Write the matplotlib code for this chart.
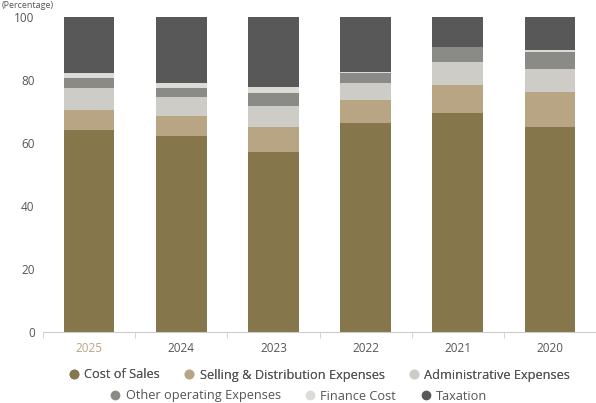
import matplotlib.pyplot as plt
import numpy as np
from matplotlib.lines import Line2D

years = ['2025', '2024', '2023', '2022', '2021', '2020']
series_names = ['Cost of Sales', 'Selling & Distribution Expenses', 'Administrative Expenses',
                'Other operating Expenses', 'Finance Cost', 'Taxation']
cost_of_sales = [64.2, 62.2, 57.1, 66.3, 69.5, 65.1]
selling_dist = [6.3, 6.4, 8.0, 7.3, 8.9, 11.1]
admin_exp = [7.0, 6.0, 6.6, 5.4, 7.3, 7.3]
other_opex = [3.1, 2.9, 4.2, 3.3, 4.8, 5.4]
finance_cost = [1.6, 1.5, 1.9, 0.3, 0.1, 0.6]
taxation = [17.8, 21.0, 22.2, 17.4, 9.4, 10.5]

colors = ['#85764c', '#b8a584', '#cdccc6', '#8a8a86', '#dcdcd7', '#585858']
text_color = '#555555'

plt.rcParams['font.family'] = ['Open Sans', 'DejaVu Sans']

fig = plt.figure(figsize=(5.96, 4.03), dpi=100)
ax = fig.add_axes([43 / 596, 71 / 403, 553 / 596, 315 / 403])

x = np.arange(len(years))
bottom = np.zeros(len(years))
data = [cost_of_sales, selling_dist, admin_exp, other_opex, finance_cost, taxation]
for vals, col, name in zip(data, colors, series_names):
    ax.bar(x, vals, width=0.55, bottom=bottom, color=col, label=name)
    bottom += np.array(vals)

ax.set_xlim(-0.5, len(years) - 0.5)
ax.set_ylim(0, 100)
ax.set_yticks([0, 20, 40, 60, 80, 100])
ax.set_xticks(x)
ax.set_xticklabels(years)
ax.set_xticks(np.arange(-0.5, len(years), 1), minor=True)
ax.tick_params(axis='x', which='major', length=0, pad=7, labelsize=8.5, labelcolor=text_color)
ax.tick_params(axis='x', which='minor', length=4, color='#cccccc', direction='out')
ax.tick_params(axis='y', length=0, pad=6, labelsize=8.5, labelcolor=text_color)
ax.get_xticklabels()[0].set_color('#b8a584')
for s in ['top', 'right', 'left']:
    ax.spines[s].set_visible(False)
ax.spines['bottom'].set_color('#cccccc')

handles = [Line2D([], [], marker='o', linestyle='', markersize=6, color=c) for c in colors]
leg_kw = dict(loc='center', ncol=3, frameon=False, fontsize=9.2, handletextpad=0.3,
              columnspacing=1.8, labelcolor=text_color, handlelength=1)
leg1 = fig.legend(handles[:3], series_names[:3], bbox_to_anchor=(0.535, 28 / 403), **leg_kw)
leg2 = fig.legend(handles[3:], series_names[3:], bbox_to_anchor=(0.5, 7 / 403), **leg_kw)
fig.add_artist(leg1)

fig.text(0.003, 1 - 1 / 403, '(Percentage)', fontsize=6.5, color=text_color, va='top', ha='left')

fig.savefig('out.png', dpi=100)
